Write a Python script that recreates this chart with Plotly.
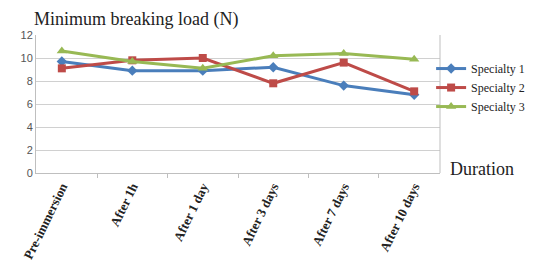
import plotly.graph_objects as go

categories = ["Pre-immersion", "After 1h", "After 1 day", "After 3 days", "After 7 days", "After 10 days"]
specialty1 = [9.7, 8.9, 8.9, 9.2, 7.6, 6.8]
specialty2 = [9.1, 9.8, 10.0, 7.8, 9.6, 7.1]
specialty3 = [10.6, 9.7, 9.1, 10.2, 10.4, 9.9]
y_ticks = [0, 2, 4, 6, 8, 10, 12]

series = [
    ("Specialty 1", specialty1, "#4A7EBB", "diamond", 8),
    ("Specialty 2", specialty2, "#BE4B48", "square", 8),
    ("Specialty 3", specialty3, "#98B954", "triangle-up", 9),
]

fig = go.Figure()
for name, vals, color, sym, size in series:
    fig.add_trace(go.Scatter(
        x=categories, y=vals, name=name, mode="lines+markers",
        line=dict(color=color, width=3),
        marker=dict(symbol=sym, size=size, color=color),
    ))

serif = "Liberation Serif, Times New Roman, serif"
# page body has an 8px margin, so the figure is 8px smaller than the window
fig.update_layout(
    width=527, height=256,
    margin=dict(l=28, r=95, t=27, b=91, autoexpand=False),
    paper_bgcolor="white", plot_bgcolor="white",
    showlegend=True,
    legend=dict(x=0.978, y=0.862, xanchor="left", yanchor="top",
                font=dict(family=serif, size=12, color="#222222"),
                tracegroupgap=1, itemwidth=30, bgcolor="rgba(0,0,0,0)"),
    xaxis=dict(
        type="category", tickson="boundaries", ticks="outside", ticklen=4,
        tickcolor="#BFBFBF", showline=True, linecolor="#BFBFBF", linewidth=1,
        showgrid=False, tickangle=-64, automargin=False,
        tickfont=dict(family=serif, size=13, color="#222222", weight="bold"),
    ),
    yaxis=dict(
        range=[0, 12], tickvals=y_ticks, showgrid=True, gridcolor="#D0D0D0",
        showline=True, linecolor="#BFBFBF", linewidth=1, ticks="",
        automargin=False,
        tickfont=dict(family="Liberation Sans, Arial, sans-serif", size=11, color="#555555"),
        zeroline=False,
    ),
    annotations=[
        dict(text="Minimum breaking load (N)", xref="paper", yref="paper",
             x=-0.01, y=1.0, xanchor="left", yanchor="bottom", yshift=3,
             showarrow=False, font=dict(family=serif, size=18, color="#222222")),
        dict(text="Duration", xref="paper", yref="paper",
             x=1.02, y=0.0, xanchor="left", yanchor="middle", yshift=4,
             showarrow=False, font=dict(family=serif, size=18, color="#222222")),
    ],
    shapes=[
        dict(type="line", xref="paper", yref="paper", x0=1, x1=1, y0=0, y1=1,
             line=dict(color="#BFBFBF", width=1)),
    ],
)

fig.write_html("out.html")
